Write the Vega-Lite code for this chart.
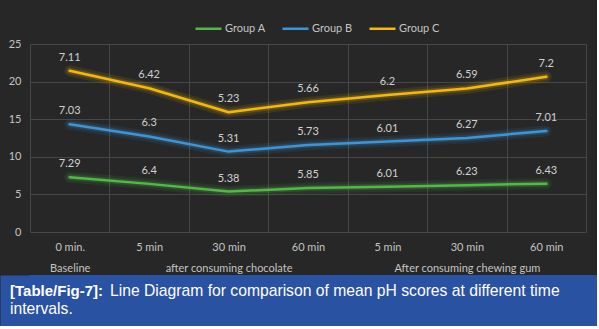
{
  "$schema": "https://vega.github.io/schema/vega-lite/v6.json",
  "background": "#272727",
  "padding": {"left": 0, "top": 14, "right": 0, "bottom": 0},
  "spacing": 2,
  "config": {"view": {"stroke": null}, "font": "Lato"},
  "vconcat": [
    {
      "width": 556,
      "height": 188,
      "data": {"values": [
        {"group": "Group A", "step": 0, "pH": 7.29},
        {"group": "Group A", "step": 1, "pH": 6.4},
        {"group": "Group A", "step": 2, "pH": 5.38},
        {"group": "Group A", "step": 3, "pH": 5.85},
        {"group": "Group A", "step": 4, "pH": 6.01},
        {"group": "Group A", "step": 5, "pH": 6.23},
        {"group": "Group A", "step": 6, "pH": 6.43},
        {"group": "Group B", "step": 0, "pH": 7.03},
        {"group": "Group B", "step": 1, "pH": 6.3},
        {"group": "Group B", "step": 2, "pH": 5.31},
        {"group": "Group B", "step": 3, "pH": 5.73},
        {"group": "Group B", "step": 4, "pH": 6.01},
        {"group": "Group B", "step": 5, "pH": 6.27},
        {"group": "Group B", "step": 6, "pH": 7.01},
        {"group": "Group C", "step": 0, "pH": 7.11},
        {"group": "Group C", "step": 1, "pH": 6.42},
        {"group": "Group C", "step": 2, "pH": 5.23},
        {"group": "Group C", "step": 3, "pH": 5.66},
        {"group": "Group C", "step": 4, "pH": 6.2},
        {"group": "Group C", "step": 5, "pH": 6.59},
        {"group": "Group C", "step": 6, "pH": 7.2}
      ]},
      "transform": [
        {"stack": "pH", "groupby": ["step"], "sort": [{"field": "group", "order": "ascending"}], "as": ["pH_start", "pH_end"]}
      ],
      "encoding": {
        "x": {
          "field": "step", "type": "ordinal",
          "scale": {"type": "band", "paddingInner": 0, "paddingOuter": 0},
          "axis": {
            "title": null, "labelAngle": 0, "tickBand": "extent", "grid": true, "gridColor": "#474747", "gridWidth": 1,
            "domain": false, "ticks": false, "tickSize": 0, "labelPadding": 9,
            "labelColor": "#c4c4c4", "labelFont": "Lato", "labelFontSize": 11, "labelLineHeight": 21,
            "labelOverlap": false, "labelBound": false, "labelFlush": false,
            "labelExpr": "[['0 min.','Baseline'],['5 min',''],['30 min','after consuming chocolate'],['60 min',''],['5 min',''],['30 min','After consuming chewing gum'],['60 min','']][datum.value]"
          }
        },
        "y": {
          "field": "pH_end", "type": "quantitative",
          "scale": {"domain": [0, 25], "nice": false},
          "axis": {
            "title": null, "minExtent": 30, "maxExtent": 30,
            "values": [0, 5, 10, 15, 20, 25], "grid": true, "gridColor": "#474747",
            "domain": false, "ticks": false, "tickSize": 0, "labelPadding": 9,
            "labelColor": "#c4c4c4", "labelFont": "Lato", "labelFontSize": 11
          }
        },
        "color": {
          "field": "group", "type": "nominal",
          "scale": {"domain": ["Group A", "Group B", "Group C"], "range": ["#52b947", "#3d95d8", "#f5b90a"]},
          "legend": {
            "orient": "none", "legendX": 164, "legendY": -30, "direction": "horizontal", "title": null,
            "symbolType": "stroke", "symbolSize": 676, "symbolStrokeWidth": 2.5, "symbolOpacity": 1,
            "labelFont": "Lato", "labelFontSize": 11, "labelColor": "#c4c4c4", "columnPadding": 11, "labelOffset": 2
          }
        },
        "detail": {"field": "group"}
      },
      "layer": [
        {"mark": {"type": "line", "strokeWidth": 11, "opacity": 0.1, "strokeCap": "round", "strokeJoin": "round"}},
        {"mark": {"type": "line", "strokeWidth": 6, "opacity": 0.2, "strokeCap": "round", "strokeJoin": "round"}},
        {"mark": {"type": "line", "strokeWidth": 2.5, "strokeCap": "round", "strokeJoin": "round"}},
        {
          "mark": {"type": "text", "dy": -13, "baseline": "middle", "font": "Lato", "fontSize": 11, "color": "#d0d0d0"},
          "encoding": {"text": {"field": "pH", "type": "quantitative"}, "color": {"value": "#d0d0d0"}}
        }
      ]
    },
    {
      "width": 567,
      "height": 51,
      "view": {"fill": "#2a52a2", "stroke": null},
      "data": {"values": [
        {"line": 1, "part": "tag", "text": "[Table/Fig-7]:"},
        {"line": 1, "part": "body", "text": "Line Diagram for comparison of mean pH scores at different time"},
        {"line": 2, "part": "body", "text": "intervals."}
      ]},
      "encoding": {
        "y": {
          "field": "line", "type": "ordinal",
          "scale": {"type": "point", "domain": [1, 2], "padding": 0.917},
          "axis": {"title": null, "labels": false, "ticks": false, "grid": false, "domain": true, "domainWidth": 60, "domainColor": "#2a52a2", "minExtent": 30, "maxExtent": 30}
        },
        "x": {"datum": 0, "type": "quantitative", "scale": {"domain": [0, 1]}, "axis": null},
        "text": {"field": "text"}
      },
      "layer": [
        {
          "transform": [{"filter": "datum.part == 'tag'"}],
          "mark": {"type": "text", "font": "Liberation Sans", "fontSize": 15, "fontWeight": "bold", "color": "#ffffff", "align": "left", "baseline": "alphabetic", "dx": -20, "dy": 4.5}
        },
        {
          "transform": [{"filter": "datum.part == 'body' && datum.line == 1"}],
          "mark": {"type": "text", "font": "Liberation Sans", "fontSize": 15.7, "color": "#ffffff", "align": "left", "baseline": "alphabetic", "dx": 80, "dy": 4.5}
        },
        {
          "transform": [{"filter": "datum.line == 2"}],
          "mark": {"type": "text", "font": "Liberation Sans", "fontSize": 15.7, "color": "#ffffff", "align": "left", "baseline": "alphabetic", "dx": -20, "dy": 4.5}
        }
      ]
    }
  ]
}
